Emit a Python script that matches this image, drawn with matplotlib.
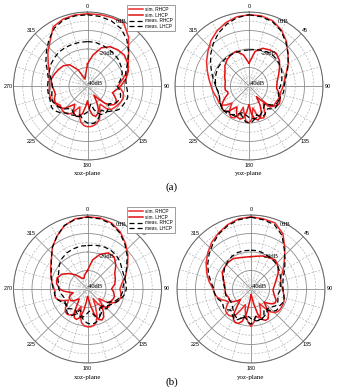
import numpy as np
import matplotlib
matplotlib.use('Agg')
import matplotlib.pyplot as plt

# angles in deg, clockwise from top: 10 deg steps in front, 5 deg steps in the back lobe region
angles = np.concatenate([np.arange(0, 90, 10), np.arange(90, 270, 5), np.arange(270, 360, 10)])

# ---- (a) xoz-plane ----
a_xoz_sim_r = ([-1, -0.8, -0.7, -0.8, -5.5, -11, -14.5, -17, -21] +
               [-23.5, -22, -20.5, -19.8, -19.6, -20, -20.5, -21, -21.5, -22, -24, -28, -27, -24, -21, -19.5, -18.5, -18,
                -18, -18.5, -20, -23, -28, -26, -23, -21.5, -21, -21, -21.5, -22, -21, -19.5, -19, -19, -19, -19.2] +
               [-19.5, -19, -18, -15.5, -12, -8.5, -3, -1.5, -1])
a_xoz_sim_l = ([-28, -23, -18, -15.5, -14.5, -14, -15, -16.5, -19] +
               [-22, -23.5, -25, -26, -24.5, -23, -22, -22.5, -24, -27, -31, -34, -30, -26, -24, -23, -24, -27,
                -32, -29, -25, -23, -22.5, -23, -25, -28, -26, -23, -21.5, -21, -20.5, -20.5, -21, -22, -22, -21.5] +
               [-21, -20, -21, -22, -23, -25, -30, -36, -34])
a_xoz_meas_r = ([-1.5, -1.8, -2.5, -4, -7, -11, -15, -18, -19] +
                [-19, -18.5, -18, -17.5, -17.5, -18, -18.3, -18.5, -19.5, -21, -22, -23, -25, -24, -22, -20.5, -19.5, -19.5,
                 -20, -21, -22.5, -24, -23.5, -22.5, -22, -22, -21, -19.5, -18.5, -17.5, -17.5, -18, -18.4, -18.4, -18.4, -18.4] +
                [-18.4, -18.5, -17, -14, -11, -7.5, -4, -2, -1.5])
a_xoz_meas_l = ([-16, -16, -16.5, -17, -17.5, -18, -19, -20, -22] +
                [-24, -23, -22, -21.5, -21, -21.5, -22, -23.5, -25, -24, -23, -22.5, -22.5, -23, -24.5, -27, -30, -28,
                 -26, -25, -24, -23, -22.5, -23, -24, -25, -24, -22.5, -21.5, -20.5, -20, -19.5, -19.5, -20, -20.5, -21] +
                [-21, -20, -18, -17, -16.5, -16, -16, -16, -16])

# ---- (a) yoz-plane ----
a_yoz_sim_r = ([-1.5, -1.5, -2.5, -5, -8.5, -12.5, -15.5, -18.5, -20.5] +
               [-21.5, -22, -22.5, -22.5, -22.5, -22.7, -23, -23, -23, -24, -28, -26, -22.5, -21, -21.5, -24, -28, -22,
                -20, -21, -25, -28, -23, -21, -20.5, -21.5, -24, -27, -24, -22, -21.5, -21.5, -21.5, -21, -20.5, -20] +
               [-19.5, -18, -16, -13.5, -11, -8, -5.5, -3.5, -2])
a_yoz_sim_l = ([-27.7, -21, -18.3, -17.5, -17, -18.5, -21, -23, -24.5] +
               [-25, -25, -24, -23, -22, -21.5, -21, -21.5, -23, -26, -30, -33, -28, -24, -22, -21, -22, -25,
                -30, -26, -22.5, -21.5, -22, -24, -27, -25, -22, -21, -21, -22, -24, -26, -28, -28, -27, -27] +
               [-27, -27, -26, -25, -23, -21.5, -20.5, -20, -23])
a_yoz_meas_r = ([-1.5, -2, -3, -5.5, -9, -12.5, -15.5, -18, -20] +
                [-21, -21, -21, -21.5, -22, -22, -22, -21.5, -21.5, -22.5, -24, -24, -22.5, -22, -22.5, -24, -22, -20.5,
                 -20, -20.5, -22, -24, -23, -22, -22, -22.5, -22, -21, -21, -21.5, -22, -22.5, -23, -23, -23, -22.5] +
                [-22, -20.5, -18.5, -16, -13, -10, -7, -4.5, -2.5])
a_yoz_meas_l = ([-20.5, -20, -19.5, -19, -19, -19.5, -20, -21, -22] +
                [-23, -23.5, -24, -23.5, -23, -22.5, -22, -22.5, -24, -26, -27, -26, -25, -24, -23, -22.5, -22, -22.5,
                 -23, -24, -25, -25, -24, -23, -22, -21.5, -21, -21, -21, -21.5, -22, -22.5, -23, -23, -23, -22.5] +
                [-22, -21.5, -21, -20.5, -20.5, -20.5, -20.5, -20.5, -20.5])

# ---- (b) xoz-plane ----
b_xoz_sim_r = ([-1, -1, -2, -4.5, -8, -11.5, -15, -18, -21] +
               [-22.5, -22, -21.5, -21.5, -22, -23, -25, -28, -32, -30, -27, -30, -34, -30, -25, -21.5, -20, -19.5,
                -19.5, -20, -21.5, -25, -30, -27, -24, -22.8, -22.5, -23, -24.5, -27, -28, -25, -23, -22, -22, -22.5] +
               [-22, -20.5, -19, -17, -14.5, -10.5, -7, -3.5, -1.5])
b_xoz_sim_l = ([-30, -24, -20, -17.5, -17.5, -20, -23, -24, -25] +
               [-27, -26, -25.5, -25, -25, -25.5, -26, -25.5, -25, -26, -28, -25, -22.5, -21.5, -22.5, -26, -31, -35,
                -36, -33, -28, -24, -22.5, -23, -26, -31, -33, -32, -30, -29, -29, -29, -30, -32, -30, -27] +
               [-25, -23, -22.5, -24, -27, -30, -33, -34, -32])
b_xoz_meas_r = ([-1.2, -1.5, -2.5, -5, -8.5, -12, -15.5, -18, -20] +
                [-21, -21, -21.5, -22, -23, -24, -26, -27, -26, -25, -26, -28, -27, -24, -22.5, -21.5, -21, -21,
                 -21.5, -22.5, -24, -27, -28, -25, -23.5, -23, -23, -24, -25.5, -26, -25, -24, -23, -22.5, -22, -22] +
                [-21.5, -20.5, -19, -17.5, -14.5, -10.5, -7, -3.5, -1.8])
b_xoz_meas_l = ([-16.5, -16, -15.5, -15.5, -16, -17, -18.5, -19, -19] +
                [-19, -19.5, -20, -21, -22, -23, -24, -25, -26, -27, -28, -27, -25, -24, -24, -25, -27, -28,
                 -27, -25.5, -24.5, -24.5, -25, -26, -27, -27, -26, -25, -25, -25.5, -26, -26.5, -26.5, -26, -25.5, -25] +
                [-24.5, -24, -23, -22, -20, -18.5, -17.5, -17, -16.5])

# ---- (b) yoz-plane ----
b_yoz_sim_r = ([-1, -1.5, -2, -5.5, -11.5, -16.5, -20, -23, -23.5] +
               [-23, -22.5, -22, -21.5, -21, -20.8, -20.8, -20.8, -21, -22, -24, -28, -31, -28, -25, -24, -25, -22,
                -19.8, -22, -25, -28, -31, -28, -24, -22, -21.4, -21.4, -22, -24, -26, -25, -23, -21.5, -20.5, -20] +
               [-19.5, -17, -14.5, -12, -9.5, -7, -5, -3, -1.5])
b_yoz_sim_l = ([-22.5, -22, -21, -20.5, -19.5, -21, -23, -25.5, -27] +
               [-28, -28, -27.5, -27, -26, -25, -25, -26, -28, -30, -27, -23.5, -21.5, -21.3, -22.5, -26, -32, -36,
                -37, -34, -27, -22, -20.2, -20, -21, -24, -29, -32, -30, -28, -27, -27, -27, -26.5, -26, -26] +
               [-26, -25.5, -24, -22, -21.5, -21, -21, -22, -22.5])
b_yoz_meas_r = ([-1.2, -2, -3, -6.5, -12, -16, -19, -21.5, -22.5] +
                [-22.7, -22.5, -22, -21.5, -21, -21.5, -22, -22, -22, -23, -25, -27, -26, -23.5, -22.5, -23, -25, -23,
                 -21, -22, -24, -25, -23, -21.5, -21.5, -22.5, -24, -24, -22.5, -22, -22.5, -23, -22, -21, -20.5, -20] +
                [-20, -18, -15.5, -13, -10.5, -8, -5.5, -3.5, -2])
b_yoz_meas_l = ([-19, -19, -19.5, -20, -20.5, -21, -22, -23, -24] +
                [-24, -24.5, -25, -25, -24.5, -24, -23.5, -24, -25, -26, -26, -25, -24, -23.5, -23, -22.5, -22.5, -23,
                 -24, -25, -25, -24, -23, -22.5, -23, -24, -25, -26, -26.5, -27, -27, -27, -26.5, -26, -26, -26] +
                [-26, -25, -24, -23, -21.5, -20.5, -19.5, -19, -19])

panels = [
    ('xoz-plane', a_xoz_sim_r, a_xoz_sim_l, a_xoz_meas_r, a_xoz_meas_l),
    ('yoz-plane', a_yoz_sim_r, a_yoz_sim_l, a_yoz_meas_r, a_yoz_meas_l),
    ('xoz-plane', b_xoz_sim_r, b_xoz_sim_l, b_xoz_meas_r, b_xoz_meas_l),
    ('yoz-plane', b_yoz_sim_r, b_yoz_sim_l, b_yoz_meas_r, b_yoz_meas_l),
]
angle_labels = [0, 45, 90, 135, 180, 225, 270, 315]

W, H = 337, 389
R = 74
centers = [(87.5, 86), (249, 86), (87.5, 289), (251, 289)]

fig = plt.figure(figsize=(W / 100, H / 100), dpi=100)
serif = 'Liberation Serif'
sans = 'Liberation Sans'


def closed(v):
    v = list(v)
    return np.array(v + v[:1])


th = np.deg2rad(np.append(angles, 360))
handles = None

for i, ((cx, cy), (plane, s_r, s_l, m_r, m_l)) in enumerate(zip(centers, panels)):
    ax = fig.add_axes([(cx - R) / W, (H - cy - R) / H, 2 * R / W, 2 * R / H], projection='polar')
    ax.set_theta_zero_location('N')
    ax.set_theta_direction(-1)
    ax.set_ylim(-40, 0)
    ax.set_yticks([-40, -30, -20, -10, 0])
    ax.set_yticklabels([])
    ax.set_xticks(np.deg2rad(angle_labels))
    ax.set_xticklabels([])
    ax.grid(color='#8c8c8c', lw=0.6, ls='-')
    ax.spines['polar'].set_color('#666666')
    ax.spines['polar'].set_linewidth(0.7)
    # minor dashed grid
    tt = np.linspace(0, 2 * np.pi, 361)
    for rr in [-35, -25, -15, -5]:
        ax.plot(tt, np.full_like(tt, rr), color='#b8b8b8', lw=0.5, ls=(0, (3, 2)))
    for a in range(0, 360, 15):
        if a % 45:
            ax.plot([np.deg2rad(a)] * 2, [-40, 0], color='#b8b8b8', lw=0.5, ls=(0, (3, 2)))

    # angle labels just outside the rim (right-hand plots: 270 is hidden behind the left plot's 90)
    for a in angle_labels:
        if a == 270 and i % 2 == 1:
            continue
        d = 0.535
        ax.text(0.5 + d * np.sin(np.deg2rad(a)), 0.5 + d * np.cos(np.deg2rad(a)), str(a),
                transform=ax.transAxes, fontsize=3.9, family=sans, ha='center', va='center')

    l1, = ax.plot(th, closed(s_r), color='#ee2a2a', lw=1.1, label='sim. RHCP')
    l2, = ax.plot(th, closed(s_l), color='#e01010', lw=1.1, label='sim. LHCP')
    l3, = ax.plot(th, closed(m_r), color='black', lw=0.9, ls=(0, (4, 2.5)), label='meas. RHCP')
    l4, = ax.plot(th, closed(m_l), color='black', lw=0.9, ls=(0, (4, 2.5)), label='meas. LHCP')
    handles = [l1, l2, l3, l4]

    ax.text(0.73, 0.935, '0dB', transform=ax.transAxes, fontsize=4.6, family=serif, ha='center', va='center')
    ax.text(0.63, 0.72, '-20dB', transform=ax.transAxes, fontsize=4.6, family=serif, ha='center', va='center')
    ax.text(0.55, 0.515, '-40dB', transform=ax.transAxes, fontsize=4.6, family=serif, ha='center', va='center')

    fig.text(cx / W, 1 - (cy + 88) / H, plane, fontsize=5, family=serif, ha='center', va='center')

for ytop in [3, 205]:
    leg = fig.legend(handles=handles, loc='upper right', bbox_to_anchor=(177 / W, 1 - ytop / H),
                     prop={'family': sans, 'size': 3.4}, handlelength=3.0, handletextpad=0.5,
                     labelspacing=0.15, borderpad=0.35, fancybox=False, edgecolor='#777777', framealpha=1)
    leg.get_frame().set_linewidth(0.5)

fig.text(172 / W, 1 - 187 / H, '(a)', fontsize=8, family=serif, ha='center', va='center')
fig.text(172 / W, 1 - 382 / H, '(b)', fontsize=8, family=serif, ha='center', va='center')

fig.savefig('out.png', dpi=100)
